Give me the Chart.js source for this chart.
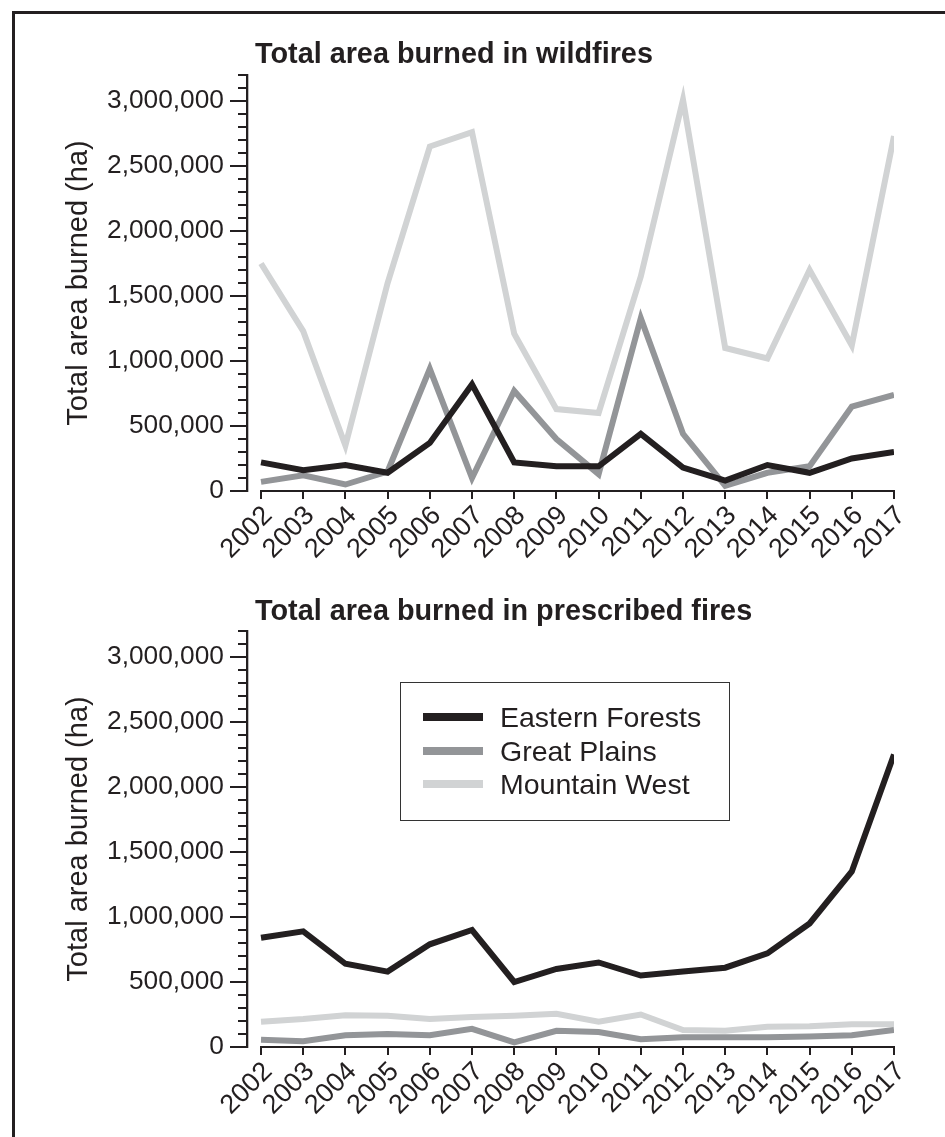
<!DOCTYPE html>
<html>
<head>
<meta charset="utf-8">
<script src="https://cdn.jsdelivr.net/npm/chart.js@4/dist/chart.umd.min.js"></script>
<style>
  html, body { margin: 0; padding: 0; overflow: hidden; background: #fff; }
  body { font-family: "Liberation Sans", Arial, sans-serif; color: #231f20; }
  .frame { position: fixed; left: 12px; top: 11px; right: -40px; bottom: -40px; border-left: 3px solid #231f20; border-top: 3px solid #231f20; }
  canvas { position: fixed; left: 0; display: block; }
  .title { position: fixed; left: 255px; font-weight: bold; font-size: 28.8px; line-height: 28.8px; white-space: nowrap; }
  .legend { position: fixed; left: 400px; top: 682px; width: 330px; height: 139px; box-sizing: border-box; border: 1.5px solid #333; }
  .row { position: absolute; left: 0; height: 34px; width: 100%; }
  .swatch { position: absolute; left: 22px; top: 13px; width: 60px; height: 8px; }
  .label { position: absolute; left: 99px; top: 0; font-size: 28.5px; line-height: 34px; white-space: nowrap; }
</style>
</head>
<body>
<div class="frame"></div>
<div class="title" style="top:39px">Total area burned in wildfires</div>
<div class="title" style="top:596px">Total area burned in prescribed fires</div>
<canvas id="chartWild" width="945" height="580" style="top:0"></canvas>
<canvas id="chartPresc" width="945" height="557" style="top:580px"></canvas>
<div class="legend" id="legend"></div>
<script>
const years = [2002, 2003, 2004, 2005, 2006, 2007, 2008, 2009, 2010, 2011, 2012, 2013, 2014, 2015, 2016, 2017];

const regions = ["Eastern Forests", "Great Plains", "Mountain West"];
const colors = ["#231f20", "#939598", "#d1d3d4"];

const wildEastern = [220000, 160000, 200000, 140000, 370000, 820000, 220000, 190000, 190000, 440000, 180000, 80000, 200000, 140000, 250000, 300000];
const wildPlains = [70000, 120000, 50000, 150000, 940000, 100000, 770000, 400000, 130000, 1330000, 440000, 40000, 140000, 190000, 650000, 740000];
const wildMountain = [1750000, 1230000, 350000, 1600000, 2650000, 2760000, 1210000, 630000, 600000, 1650000, 3010000, 1100000, 1020000, 1700000, 1120000, 2730000];

const prescEastern = [840000, 890000, 640000, 580000, 790000, 900000, 500000, 600000, 650000, 550000, 580000, 610000, 720000, 950000, 1350000, 2250000];
const prescPlains = [55000, 45000, 90000, 100000, 90000, 140000, 35000, 125000, 115000, 60000, 75000, 75000, 75000, 80000, 90000, 130000];
const prescMountain = [195000, 215000, 245000, 240000, 215000, 230000, 240000, 255000, 195000, 250000, 130000, 125000, 155000, 160000, 175000, 175000];

const yMax = 3200000;
const yStep = 100000;
const yLabelStep = 500000;

const ink = "#231f20";
const font = "'Liberation Sans', Arial, sans-serif";

// axis lines and tick marks drawn off the scales
const axisPlugin = {
  id: "axisMarks",
  beforeDatasetsDraw(chart) {
    const ctx = chart.ctx;
    const x = chart.scales.x;
    const y = chart.scales.y;
    const bottom = chart.chartArea.bottom;
    ctx.save();
    ctx.strokeStyle = ink;
    ctx.lineWidth = 2;
    ctx.beginPath();
    ctx.moveTo(x.getPixelForValue(years[0]) - 1, bottom);
    ctx.lineTo(x.getPixelForValue(years[years.length - 1]) + 1, bottom);
    ctx.stroke();
    y.ticks.forEach(function (t) {
      const py = y.getPixelForValue(t.value);
      const len = t.value % yLabelStep === 0 ? 17 : 9;
      ctx.beginPath();
      ctx.moveTo(y.right - len, py);
      ctx.lineTo(y.right, py);
      ctx.stroke();
    });
    ctx.restore();
  }
};

function makeChart(id, series, padTop, padBottom) {
  const datasets = series.map(function (values, i) {
    return {
      label: regions[i],
      data: values,
      borderColor: colors[i],
      backgroundColor: colors[i],
      borderWidth: 6,
      pointRadius: 0,
      tension: 0,
      fill: false
    };
  });

  const config = {
    type: "line",
    data: { labels: years, datasets: datasets },
    options: {
      responsive: false,
      animation: false,
      layout: { padding: { top: padTop, right: 51, bottom: padBottom, left: 0 } },
      plugins: { legend: { display: false }, tooltip: { enabled: false }, title: { display: false } },
      scales: {
        x: {
          type: "linear",
          min: years[0] - 0.332,
          max: years[years.length - 1],
          afterBuildTicks: function (scale) {
            scale.ticks = years.map(function (v) { return { value: v }; });
          },
          afterFit: function (scale) { scale.height = 80; },
          border: { display: false },
          grid: { display: true, drawOnChartArea: false, drawTicks: true, tickLength: 8, color: ink, lineWidth: 2 },
          ticks: {
            autoSkip: false,
            minRotation: 45,
            maxRotation: 45,
            padding: 1,
            labelOffset: 7,
            color: ink,
            font: { family: font, size: 27 },
            callback: function (v) { return String(v); }
          }
        },
        y: {
          min: 0,
          max: yMax,
          afterFit: function (scale) { scale.width = 247; },
          border: { display: true, color: ink, width: 2.3 },
          grid: { display: true, drawOnChartArea: false, drawTicks: false },
          title: {
            display: true,
            text: "Total area burned (ha)",
            color: ink,
            font: { family: font, size: 29 },
            padding: { top: 62, bottom: 0 }
          },
          ticks: {
            stepSize: yStep,
            autoSkip: false,
            padding: 23,
            color: ink,
            font: { family: font, size: 26.3 },
            callback: function (v) { return v % yLabelStep === 0 ? v.toLocaleString("en-US") : ""; }
          }
        }
      }
    },
    plugins: [axisPlugin]
  };

  return new Chart(document.getElementById(id), config);
}

makeChart("chartWild", [wildEastern, wildPlains, wildMountain], 75, 9);
makeChart("chartPresc", [prescEastern, prescPlains, prescMountain], 51, 10);

const legend = document.getElementById("legend");
regions.forEach(function (name, i) {
  const row = document.createElement("div");
  row.className = "row";
  row.style.top = (17 + i * 33.5) + "px";
  row.innerHTML = '<div class="swatch" style="background:' + colors[i] + '"></div><div class="label">' + name + "</div>";
  legend.appendChild(row);
});
</script>
</body>
</html>
